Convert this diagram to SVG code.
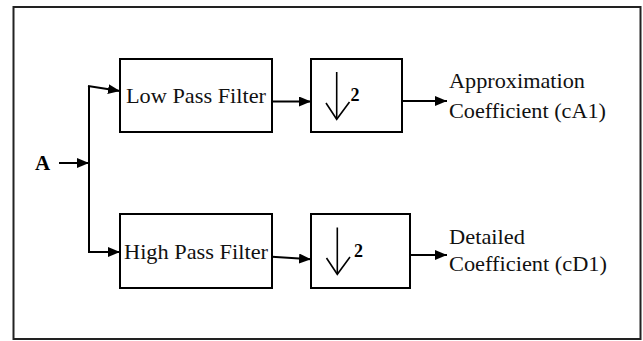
<svg xmlns="http://www.w3.org/2000/svg" width="643" height="341" viewBox="0 0 643 341">
<defs>
<style>
.box{fill:#fff;stroke:#000;stroke-width:2}
.ln{fill:none;stroke:#000;stroke-width:2}
.thin{fill:none;stroke:#000;stroke-width:1.6}
.t{font-family:"Liberation Serif","Times New Roman",serif;font-size:22px;fill:#111}
.b{font-family:"Liberation Serif","Times New Roman",serif;font-weight:bold;fill:#000}
</style>
<marker id="ah" viewBox="0 0 12 10" refX="12" refY="5" markerWidth="12" markerHeight="10" markerUnits="userSpaceOnUse" orient="auto">
<path d="M0,0 L12,5 L0,10 Z" fill="#000"/>
</marker>
</defs>
<rect x="13.5" y="7" width="627" height="332" fill="#fff" stroke="#222" stroke-width="2"/>
<g id="input">
<text class="b" x="35" y="169.5" style="font-size:21px">A</text>
</g>
<g id="lpf">
<rect class="box" x="120" y="59" width="152" height="73"/>
<text class="t" x="126" y="103" textLength="140" lengthAdjust="spacingAndGlyphs">Low Pass Filter</text>
</g>
<g id="hpf">
<rect class="box" x="120" y="214" width="152" height="74"/>
<text class="t" x="124" y="259" textLength="144" lengthAdjust="spacingAndGlyphs">High Pass Filter</text>
</g>
<g id="ds1">
<rect class="box" x="311" y="59" width="91" height="73"/>
<line class="thin" x1="336.7" y1="72" x2="336.7" y2="119"/>
<polyline class="thin" points="326,103 336.7,119.3 349.5,102"/>
<text class="b" x="350.5" y="101" style="font-size:18px">2</text>
</g>
<g id="ds2">
<rect class="box" x="311" y="214" width="99" height="74"/>
<line class="thin" x1="337.3" y1="227.5" x2="337.3" y2="274"/>
<polyline class="thin" points="326.5,258 337.3,274.3 350,257"/>
<text class="b" x="354" y="257" style="font-size:18px">2</text>
</g>
<g id="outA">
<text class="t" x="449" y="88" textLength="136" lengthAdjust="spacingAndGlyphs">Approximation</text>
<text class="t" x="449" y="118" textLength="157" lengthAdjust="spacingAndGlyphs">Coefficient (cA1)</text>
</g>
<g id="outD">
<text class="t" x="449" y="244" textLength="76" lengthAdjust="spacingAndGlyphs">Detailed</text>
<text class="t" x="449" y="271" textLength="158" lengthAdjust="spacingAndGlyphs">Coefficient (cD1)</text>
</g>
<g id="connectors">
<line class="ln" x1="59" y1="163" x2="89" y2="163" marker-end="url(#ah)"/>
<line class="ln" x1="89" y1="86" x2="89" y2="252"/>
<line class="ln" x1="88" y1="86" x2="120" y2="91" marker-end="url(#ah)"/>
<line class="ln" x1="88" y1="252" x2="120" y2="252" marker-end="url(#ah)"/>
<line class="ln" x1="272" y1="101.5" x2="311" y2="101.5" marker-end="url(#ah)"/>
<line class="ln" x1="272" y1="256.7" x2="311" y2="259.3" marker-end="url(#ah)"/>
<line class="ln" x1="402" y1="101" x2="447" y2="101" marker-end="url(#ah)"/>
<line class="ln" x1="410" y1="255" x2="447" y2="255" marker-end="url(#ah)"/>
</g>
</svg>
